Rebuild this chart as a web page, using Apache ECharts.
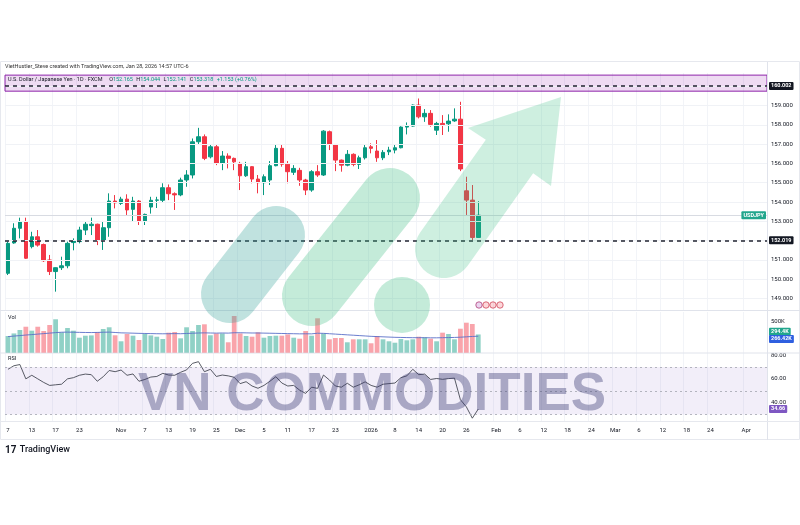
<!DOCTYPE html>
<html><head><meta charset="utf-8">
<script src="https://cdn.jsdelivr.net/npm/echarts@6/dist/echarts.min.js"></script>
<style>html,body{margin:0;padding:0;background:#fff}#c{width:800px;height:525px}</style>
</head><body><div id="c"></div>
<script>
// ---------- DATA ----------
const startDate = '2025-10-07', endDate = '2026-04-06';
const holidays = ['2025-12-25', '2026-01-01'];
const categories = [];
for (let d = new Date(startDate + 'T00:00:00Z'); d <= new Date(endDate + 'T00:00:00Z'); d.setUTCDate(d.getUTCDate() + 1)) {
  const wd = d.getUTCDay(); const s = d.toISOString().slice(0, 10);
  if (wd !== 0 && wd !== 6 && holidays.indexOf(s) < 0) categories.push(s);
}
const tickDates = ['2025-10-07','2025-10-13','2025-10-17','2025-10-23','2025-11-03','2025-11-07','2025-11-13','2025-11-19','2025-11-25','2025-12-01','2025-12-05','2025-12-11','2025-12-17','2025-12-23','2026-01-02','2026-01-08','2026-01-14','2026-01-20','2026-01-26','2026-02-02','2026-02-06','2026-02-12','2026-02-18','2026-02-24','2026-03-02','2026-03-06','2026-03-12','2026-03-18','2026-03-24','2026-04-01'];
const tickLabels = ['7','13','17','23','Nov','7','13','19','25','Dec','5','11','17','23','2026','8','14','20','26','Feb','6','12','18','24','Mar','6','12','18','24','Apr'];

const opens = [150.31,151.88,152.64,152.98,151.69,152.20,151.80,151.00,150.40,150.60,
150.70,151.90,151.95,152.55,152.78,152.85,152.03,152.67,154.05,153.93,
154.15,153.62,154.05,153.02,153.74,154.09,154.09,154.74,154.43,154.37,
155.14,155.40,157.12,157.38,156.34,156.86,156.00,156.38,156.26,156.00,
155.36,155.83,155.19,155.00,155.14,155.88,156.78,155.96,155.54,155.64,
155.14,154.62,155.57,155.40,157.64,156.98,156.17,155.91,156.47,155.95,
156.29,156.86,156.64,156.29,156.60,156.69,156.81,157.88,157.93,159.02,
158.41,158.59,157.72,158.07,158.05,158.20,158.29,154.58,154.10,152.165];
const closes = [151.86,152.64,152.98,151.09,152.20,151.77,150.96,150.40,150.60,150.70,
151.86,152.00,152.55,152.85,152.85,152.03,152.67,154.05,153.96,154.15,
153.59,154.05,153.02,153.36,154.09,154.11,154.74,154.43,154.37,155.14,
155.40,157.12,157.38,156.26,156.86,156.00,156.38,156.26,156.08,155.36,
155.83,155.19,155.00,155.31,155.88,156.78,155.96,155.57,155.74,155.14,
154.62,155.57,155.40,157.67,156.98,156.17,155.91,156.47,155.95,156.29,
156.81,156.78,156.29,156.57,156.69,156.81,157.88,157.93,159.02,158.41,
158.59,158.02,158.07,158.00,158.19,158.29,155.71,154.10,152.165,153.318];
const lows = [150.22,151.84,152.12,151.05,151.60,151.69,150.90,150.22,149.36,150.48,
150.57,151.50,151.86,152.29,152.29,151.77,151.52,152.20,153.67,153.85,
153.33,152.98,152.81,152.81,153.40,153.69,154.00,154.10,153.59,154.30,
154.79,155.22,157.00,156.17,156.26,155.91,155.65,155.74,155.65,154.62,
155.30,154.97,154.45,154.36,154.88,155.85,155.83,154.97,155.40,154.84,
154.36,154.53,155.30,155.35,156.69,155.60,155.57,155.85,155.85,155.71,
156.20,156.52,156.08,156.17,156.43,156.52,156.78,157.50,157.90,158.33,
158.15,157.90,157.47,157.47,157.64,158.15,155.60,153.33,152.03,152.141];
const highs = [151.95,152.90,153.19,153.19,152.46,152.55,151.85,151.26,150.62,151.17,
151.95,152.12,152.72,152.98,153.19,152.88,153.02,154.45,154.36,154.27,
154.40,154.27,154.10,153.40,154.27,154.27,154.97,154.91,154.50,155.26,
155.65,157.29,157.84,157.50,156.95,156.95,156.64,156.52,156.30,156.08,
156.08,155.85,155.40,155.43,156.12,156.95,156.95,156.12,155.91,155.77,
155.20,155.65,155.91,157.72,157.70,157.00,156.20,156.69,156.52,156.40,
156.95,157.04,157.21,156.69,156.86,156.95,157.92,158.12,159.05,159.36,
158.81,158.76,158.15,158.50,158.54,158.85,159.19,155.31,154.88,154.044];

// volume in thousands
const volumes = [269,311,366,419,355,419,350,447,539,329,
398,355,242,274,279,334,382,410,281,184,
302,274,205,302,279,258,221,323,334,232,
410,350,447,458,281,311,311,168,592,311,
269,258,329,242,269,274,274,295,242,226,
350,274,555,311,216,237,237,168,216,216,
216,152,269,216,184,161,221,200,216,258,
248,226,184,323,302,216,387,484,463,294.4];
const volumeMA = [260,268,276,285,292,300,308,316,324,330,
332,330,328,326,325,327,330,332,326,320,
318,315,312,310,308,306,305,306,308,306,
310,314,318,320,318,316,318,316,322,322,
320,318,318,316,314,312,310,308,306,304,
305,304,314,312,306,300,294,288,282,276,
270,264,260,256,252,248,246,244,242,242,
242,240,240,242,244,246,250,256,262,266.42];
const rsi = [68,71,72,60,63,60,57,54.5,55,55.5,
60,61,63,64,63.5,58,61.8,67,66,67.4,
63,64.1,58,59.5,61.5,62,64.6,63.2,63,65.5,
67.5,73,74.4,66,68,62,63.2,62.5,61.3,56,
57.6,54,52.1,54.5,58,61.8,56.5,54,54.5,50.5,
47.8,53,52,63.2,59,54,53,56.3,53,55,
57.5,54.5,53,55.5,56,56.5,61,62.5,68,63.5,
64,59.5,60.3,59.6,60.2,60.6,42.5,36.5,27,34.66];

const priceTicks = [149,150,151,152,153,154,155,156,157,158,159];
const priceGrid = [149,150,151,152,153,154,155,156,157,158,159,160];
const volTicks = [500];
const rsiTicks = [80,60,40];
const rsiBand = [30, 70];
const rsiMid = 50;
const levelTop = 160.002;
const levelSupport = 152.019;
const lastPrice = 153.318;
const rectBand = [159.74, 160.57];

// ---------- CHART ----------
const FONT = 'Roboto, "Liberation Sans", sans-serif';
const UP = '#089981', DOWN = '#f23645';
const chart = echarts.init(document.getElementById('c'), null, {width: 800, height: 525});
const isTick = (i, v) => tickDates.indexOf(v) >= 0;
const GL = 5, GW = 762;

function xAx(idx, showLabel) {
  return {
    type: 'category', gridIndex: idx, data: categories, boundaryGap: true,
    axisLine: {show: false}, axisTick: {show: false},
    axisLabel: {show: showLabel, interval: isTick, fontSize: 6, color: '#131722', fontFamily: FONT, margin: 6,
      formatter: v => tickLabels[tickDates.indexOf(v)]},
    splitLine: {show: true, interval: isTick, lineStyle: {color: '#f2f4f8', width: 1}}
  };
}
const yLab = {fontSize: 6, color: '#131722', fontFamily: FONT, margin: 4};

chart.setOption({
  animation: false,
  textStyle: {fontFamily: FONT},
  grid: [
    {left: GL, width: GW, top: 73, height: 237},
    {left: GL, width: GW, top: 312, height: 40.7},
    {left: GL, width: GW, top: 352.5, height: 68.5}
  ],
  xAxis: [xAx(0, false), xAx(1, false), xAx(2, true)],
  yAxis: [
    {type: 'value', gridIndex: 0, position: 'right', min: 148.41, max: 160.68, scale: true,
     splitLine: {show: false}, axisLine: {show: false}, axisTick: {show: false},
     axisLabel: Object.assign({customValues: priceTicks, formatter: v => v.toFixed(3)}, yLab)},
    {type: 'value', gridIndex: 1, position: 'right', min: 0, max: 656.5,
     splitLine: {show: false}, axisLine: {show: false}, axisTick: {show: false},
     axisLabel: Object.assign({customValues: volTicks, formatter: v => v + 'K'}, yLab)},
    {type: 'value', gridIndex: 2, position: 'right', min: 24.65, max: 82.1,
     splitLine: {show: false}, axisLine: {show: false}, axisTick: {show: false},
     axisLabel: Object.assign({customValues: rsiTicks, formatter: v => v.toFixed(2)}, yLab)}
  ],
  series: [
    {
      type: 'candlestick', xAxisIndex: 0, yAxisIndex: 0, barWidth: '68%',
      data: opens.map((o, i) => [o, closes[i], lows[i], highs[i]]),
      itemStyle: {color: UP, color0: DOWN, borderColor: UP, borderColor0: DOWN, borderWidth: 1},
      markArea: {silent: true, data: [[{yAxis: rectBand[0]}, {yAxis: rectBand[1]}]],
        itemStyle: {color: 'rgba(156,39,176,0.17)', borderColor: '#8e24aa', borderWidth: 1}},
      markLine: {silent: true, symbol: ['none', 'none'], label: {show: false},
        data: priceGrid.map(v => ({yAxis: v, lineStyle: {color: '#f0f2f6', width: 1, type: 'solid'}}))
          .concat([
            {yAxis: lastPrice, lineStyle: {color: '#d8dbe2', width: 1, type: 'solid'}},
            {yAxis: levelTop, lineStyle: {color: '#202330', width: 1.5, type: [4, 4]}},
            {yAxis: levelSupport, lineStyle: {color: '#202330', width: 1.5, type: [4, 4]}}
          ])}
    },
    {
      type: 'bar', xAxisIndex: 1, yAxisIndex: 1, barWidth: '80%',
      data: volumes.map((v, i) => ({value: v, itemStyle: {color: closes[i] >= opens[i] ? 'rgba(8,153,129,0.45)' : 'rgba(242,54,69,0.45)'}}))
    },
    {
      type: 'line', xAxisIndex: 1, yAxisIndex: 1, data: volumeMA, symbol: 'none',
      lineStyle: {color: '#5a6fc8', width: 0.9}
    },
    {
      type: 'line', xAxisIndex: 2, yAxisIndex: 2, data: rsi, symbol: 'none',
      lineStyle: {color: '#30333f', width: 0.8},
      markArea: {silent: true, data: [[{yAxis: rsiBand[0]}, {yAxis: rsiBand[1]}]],
        itemStyle: {color: 'rgba(126,87,194,0.1)'}},
      markLine: {silent: true, symbol: ['none', 'none'], label: {show: false},
        lineStyle: {color: '#a3a6af', width: 0.8, type: [2, 3]},
        data: [{yAxis: rsiBand[1]}, {yAxis: rsiMid}, {yAxis: rsiBand[0]}]}
    }
  ]
});

// ---------- DECORATION (tags, watermark, texts) ----------
const py = v => chart.convertToPixel({yAxisIndex: 0}, v);
const vy = v => chart.convertToPixel({yAxisIndex: 1}, v);
const ry = v => chart.convertToPixel({yAxisIndex: 2}, v);

function tag(text, x, y, bg, align) {
  return {type: 'text', z: 300, silent: true,
    style: {text: text, x: x, y: y, fill: '#fff', backgroundColor: bg, padding: [1, 2, 1, 2], borderRadius: 1,
      font: 'bold 5.5px ' + FONT, align: align || 'left', verticalAlign: 'middle'}};
}

// arrow polygon (shaft + head + rounded tail)
const B = [444, 249], T = [509.5, 156.5];
const dl = Math.hypot(T[0] - B[0], T[1] - B[1]);
const d = [(T[0] - B[0]) / dl, (T[1] - B[1]) / dl];
const n = [-d[1], d[0]];
const hw = 29;
const arrowPts = [
  [T[0] + hw * n[0], T[1] + hw * n[1]], [551, 186], [561, 97], [468, 128],
  [T[0] - hw * n[0], T[1] - hw * n[1]], [B[0] - hw * n[0], B[1] - hw * n[1]]
];
for (let k = 1; k < 18; k++) {
  const a = Math.PI - Math.PI * k / 18;
  arrowPts.push([B[0] + hw * (Math.cos(a) * n[0] - Math.sin(a) * d[0]), B[1] + hw * (Math.cos(a) * n[1] - Math.sin(a) * d[1])]);
}
arrowPts.push([B[0] + hw * n[0], B[1] + hw * n[1]]);

const volA = vy(volumes[volumes.length - 1]), volB = vy(volumeMA[volumeMA.length - 1]);
const vm = (volA + volB) / 2;

chart.setOption({
  graphic: [
    {type: 'rect', z: 0, silent: true, shape: {x: 0.5, y: 61.5, width: 799, height: 378}, style: {fill: 'none', stroke: '#e6e8ee', lineWidth: 1}},
    {type: 'line', z: 1, silent: true, shape: {x1: 767.5, y1: 62, x2: 767.5, y2: 440}, style: {stroke: '#e0e3eb', lineWidth: 1}},
    {type: 'line', z: 1, silent: true, shape: {x1: 0, y1: 310.5, x2: 800, y2: 310.5}, style: {stroke: '#e0e3eb', lineWidth: 1}},
    {type: 'line', z: 1, silent: true, shape: {x1: 0, y1: 353, x2: 800, y2: 353}, style: {stroke: '#e0e3eb', lineWidth: 1}},
    {type: 'line', z: 1, silent: true, shape: {x1: 0, y1: 421.5, x2: 800, y2: 421.5}, style: {stroke: '#e6e8ee', lineWidth: 1}},
    // watermark logo
    {type: 'line', z: 150, silent: true, shape: {x1: 230, y1: 294, x2: 276, y2: 235}, style: {stroke: 'rgba(45,160,150,0.3)', lineWidth: 58, lineCap: 'round'}},
    {type: 'line', z: 150, silent: true, shape: {x1: 312, y1: 296, x2: 390, y2: 198}, style: {stroke: 'rgba(60,190,130,0.3)', lineWidth: 60, lineCap: 'round'}},
    {type: 'circle', z: 150, silent: true, shape: {cx: 402, cy: 305, r: 28}, style: {fill: 'rgba(60,190,130,0.3)'}},
    {type: 'polygon', z: 150, silent: true, shape: {points: arrowPts}, style: {fill: 'rgba(60,190,130,0.25)'}},
    {type: 'text', z: 160, silent: true, style: {text: 'VN COMMODITIES', x: 372, y: 395, align: 'center', verticalAlign: 'middle',
      font: 'bold 53px "Liberation Sans", Arial, sans-serif', fill: 'rgba(60,60,115,0.4)'}},
    // texts
    {type: 'text', z: 200, silent: true, style: {text: 'VietHustler_Steve created with TradingView.com, Jan 28, 2026 14:57 UTC-6', x: 5, y: 67, verticalAlign: 'middle', font: '5.5px ' + FONT, fill: '#333'}},
    {type: 'text', z: 200, silent: true, style: {
      text: '{a|U.S. Dollar / Japanese Yen · 1D · FXCM}  {a|O}{b|152.165} {a|H}{b|154.044} {a|L}{b|152.141} {a|C}{b|153.318} {b|+1.153 (+0.76%)}',
      x: 8, y: 79.5, verticalAlign: 'middle',
      rich: {a: {fontSize: 5.5, fill: '#131722', fontFamily: FONT}, b: {fontSize: 5.5, fill: '#089981', fontFamily: FONT}}}},
    {type: 'text', z: 200, silent: true, style: {text: 'Vol', x: 8, y: 318, verticalAlign: 'middle', font: '5.5px ' + FONT, fill: '#131722'}},
    {type: 'text', z: 200, silent: true, style: {text: 'RSI', x: 8, y: 359, verticalAlign: 'middle', font: '5.5px ' + FONT, fill: '#131722'}},
    {type: 'text', z: 200, silent: true, style: {text: '{l|17} {t|TradingView}', x: 5, y: 450, verticalAlign: 'middle',
      rich: {l: {font: 'bold 10px ' + FONT, fill: '#131722'}, t: {font: '500 9px ' + FONT, fill: '#131722'}}}},
    // small event badges
    {type: 'circle', z: 200, silent: true, shape: {cx: 479, cy: 305, r: 3.2}, style: {fill: 'rgba(156,39,176,0.2)', stroke: '#b0417a', lineWidth: 0.8}},
    {type: 'circle', z: 200, silent: true, shape: {cx: 486, cy: 305, r: 3.2}, style: {fill: 'rgba(242,54,69,0.2)', stroke: '#d0485a', lineWidth: 0.8}},
    {type: 'circle', z: 200, silent: true, shape: {cx: 493, cy: 305, r: 3.2}, style: {fill: 'rgba(242,54,69,0.2)', stroke: '#d0485a', lineWidth: 0.8}},
    {type: 'circle', z: 200, silent: true, shape: {cx: 500, cy: 305, r: 3.2}, style: {fill: 'rgba(242,54,69,0.2)', stroke: '#d0485a', lineWidth: 0.8}},
    // axis tags
    tag(levelTop.toFixed(3), 769, py(levelTop), '#131722'),
    tag(levelSupport.toFixed(3), 769, py(levelSupport), '#131722'),
    tag('USDJPY', 766, py(lastPrice), '#22a68d', 'right'),
    tag(volumes[volumes.length - 1].toFixed(1) + 'K', 769, vm - 3.6, '#22a68d'),
    tag(volumeMA[volumeMA.length - 1].toFixed(2) + 'K', 769, vm + 3.6, '#2f5fe0'),
    tag(rsi[rsi.length - 1].toFixed(2), 769, ry(rsi[rsi.length - 1]), '#7e57c2')
  ]
});
</script>
</body></html>
